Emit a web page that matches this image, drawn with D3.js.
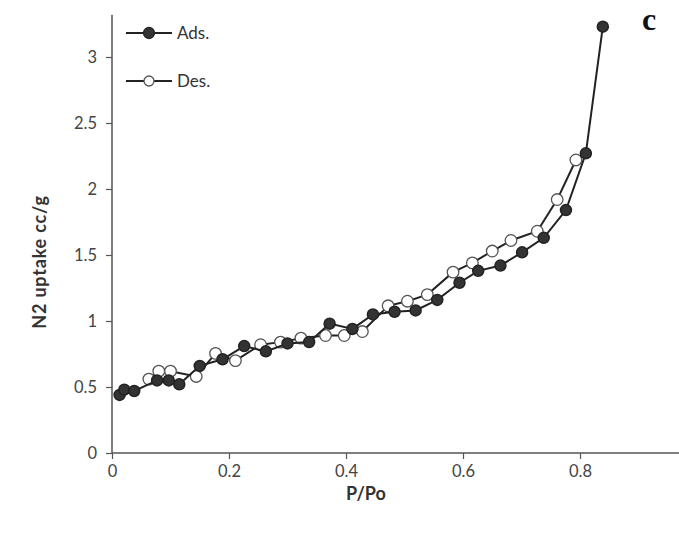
<!DOCTYPE html>
<html>
<head>
<meta charset="utf-8">
<script src="https://cdn.jsdelivr.net/npm/d3@7"></script>
<style>
  body { margin: 0; background: #fff; }
  svg { display: block; }
  .tick text { font-family: Lato, "Open Sans", sans-serif; font-size: 16.5px; fill: #444; }
</style>
</head>
<body>
<div class="chart"></div>
<script>
// adsorption branch (filled markers)
var adsP = [0.013, 0.021, 0.038, 0.077, 0.097, 0.115, 0.150, 0.189, 0.226, 0.263, 0.300, 0.337,
            0.372, 0.411, 0.446, 0.483, 0.519, 0.556, 0.594, 0.626, 0.664, 0.701, 0.738, 0.776,
            0.810, 0.839]
var adsV = [0.44, 0.48, 0.47, 0.55, 0.55, 0.52, 0.66, 0.71, 0.81, 0.77, 0.83, 0.84,
            0.98, 0.94, 1.05, 1.07, 1.08, 1.16, 1.29, 1.38, 1.42, 1.52, 1.63, 1.84,
            2.27, 3.23]
// desorption branch (open markers)
var desP = [0.063, 0.080, 0.100, 0.144, 0.177, 0.211, 0.254, 0.288, 0.323, 0.365, 0.397,
            0.428, 0.472, 0.505, 0.539, 0.583, 0.616, 0.650, 0.682, 0.727, 0.761, 0.793]
var desV = [0.56, 0.62, 0.62, 0.58, 0.755, 0.70, 0.82, 0.84, 0.87, 0.89, 0.89,
            0.92, 1.115, 1.15, 1.20, 1.37, 1.44, 1.53, 1.61, 1.68, 1.92, 2.22]
var xTicks = [0, 0.2, 0.4, 0.6, 0.8]
var yTicks = [0, 0.5, 1, 1.5, 2, 2.5, 3]
var seriesNames = ["Ads.", "Des."]

var width = 679, height = 533
var font = "Lato, 'Open Sans', sans-serif"

var svg = d3.select(".chart").append("svg")
    .attr("width", width)
    .attr("height", height)

var x = d3.scaleLinear().domain([0, 1]).range([112, 697])
var y = d3.scaleLinear().domain([0, 3.32]).range([453, 453 - 3.32 * 132])

var fmt = d3.format("~g")

// axes
var gx = svg.append("g")
    .attr("transform", "translate(0," + y(0) + ")")
    .call(d3.axisBottom(x).tickValues(xTicks).tickSize(6).tickPadding(6).tickFormat(fmt))
var gy = svg.append("g")
    .attr("transform", "translate(" + x(0) + ",0)")
    .call(d3.axisLeft(y).tickValues(yTicks).tickSize(6).tickPadding(9).tickFormat(fmt))

gx.select(".domain").attr("d", "M" + x(0) + ",0H" + width)
gy.select(".domain").attr("d", "M0," + y(0) + "V" + y(3.32))
svg.selectAll(".domain").attr("stroke", "#555").attr("stroke-width", 1.5)
svg.selectAll(".tick line").attr("stroke", "#555").attr("stroke-width", 1.2)

// axis titles
svg.append("text")
    .attr("x", 366).attr("y", 500)
    .attr("text-anchor", "middle")
    .style("font-family", font)
    .style("font-size", "18px").style("font-weight", "bold").style("fill", "#333")
    .text("P/Po")
svg.append("text")
    .attr("transform", "translate(46," + 262 + ") rotate(-90)")
    .attr("text-anchor", "middle")
    .style("font-family", font)
    .style("font-size", "18px").style("font-weight", "bold").style("fill", "#333")
    .style("letter-spacing", "0.8px")
    .text("N2 uptake cc/g")

// panel letter
svg.append("text")
    .attr("x", 649).attr("y", 30)
    .attr("text-anchor", "middle")
    .style("font-family", "'Liberation Serif', 'DejaVu Serif', serif")
    .style("font-size", "32px").style("font-weight", "bold").style("fill", "#111")
    .text("c")

var line = d3.line()
    .x(function(d) { return x(d[0]) })
    .y(function(d) { return y(d[1]) })

var des = d3.zip(desP, desV)
var ads = d3.zip(adsP, adsV)

function drawSeries(data, filled) {
  svg.append("path")
    .datum(data)
    .attr("d", line)
    .attr("fill", "none")
    .attr("stroke", "#222")
    .attr("stroke-width", 2)
  svg.append("g").selectAll("circle")
    .data(data)
    .enter().append("circle")
      .attr("cx", function(d) { return x(d[0]) })
      .attr("cy", function(d) { return y(d[1]) })
      .attr("r", filled ? 5.5 : 5.8)
      .attr("fill", filled ? "#333" : "#fff")
      .attr("stroke", filled ? "#222" : "#555")
      .attr("stroke-width", filled ? 1.5 : 1.3)
}

drawSeries(des, false)
drawSeries(ads, true)

// legend
var legend = svg.append("g")
seriesNames.forEach(function(name, i) {
  var ly = 33 + i * 48
  legend.append("line")
    .attr("x1", 126).attr("x2", 172).attr("y1", ly).attr("y2", ly)
    .attr("stroke", "#222").attr("stroke-width", 2)
  legend.append("circle")
    .attr("cx", 149).attr("cy", ly).attr("r", i == 0 ? 5.5 : 5)
    .attr("fill", i == 0 ? "#333" : "#fff")
    .attr("stroke", i == 0 ? "#222" : "#555")
    .attr("stroke-width", 1.3)
  legend.append("text")
    .attr("x", 177).attr("y", ly).attr("dy", "0.35em")
    .style("font-family", font)
    .style("font-size", "17px").style("fill", "#333")
    .text(name)
})
</script>
</body>
</html>
